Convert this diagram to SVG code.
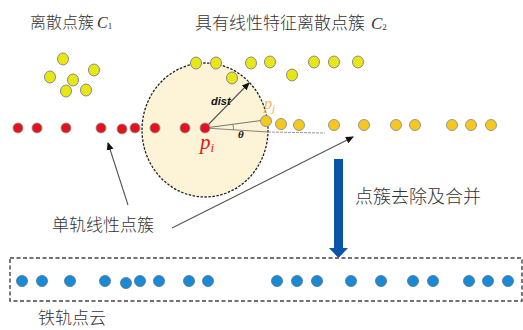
<svg xmlns="http://www.w3.org/2000/svg" width="523" height="330" viewBox="0 0 523 330">
<style>
.cn{font-family:"Noto Sans CJK SC","Liberation Sans",sans-serif;fill:#333;font-weight:300;}
.it{font-family:"Liberation Serif",serif;font-style:italic;fill:#333;}
.red{fill:#e3131b;stroke:#8a8f99;stroke-width:0.8;}
.gold{fill:#f6c81e;stroke:#8a8f99;stroke-width:0.9;}
.yel{fill:#e8e614;stroke:#7a8190;stroke-width:0.9;}
.blue{fill:#1a8ad4;stroke:#4a6f99;stroke-width:0.8;}
.lead{stroke:#555;stroke-width:1.1;fill:none;}
</style>
<defs>
<marker id="ah" markerWidth="8" markerHeight="8" refX="7" refY="4" orient="auto" markerUnits="userSpaceOnUse">
<path d="M0,0.5 L8,4 L0,7.5 z" fill="#111"/>
</marker>
</defs>
<rect width="523" height="330" fill="#fff"/>

<g id="search-circle">
<ellipse cx="205" cy="130" rx="63" ry="67" fill="#fdf3d6" stroke="#222" stroke-width="1.3" stroke-dasharray="2.5 1.5"/>
</g>

<g id="cluster-c1">
<text class="cn" x="30" y="28" font-size="16">离散点簇</text>
<text class="it" x="97" y="28" font-size="16">C<tspan font-size="9" font-style="normal" dy="1">1</tspan></text>
<ellipse class="yel" cx="63" cy="59" rx="5.5" ry="6"/>
<ellipse class="yel" cx="50" cy="77" rx="5.5" ry="6"/>
<ellipse class="yel" cx="73" cy="80" rx="5.5" ry="6"/>
<ellipse class="yel" cx="94" cy="70" rx="5.5" ry="6"/>
<ellipse class="yel" cx="66" cy="91" rx="5.5" ry="6"/>
<ellipse class="yel" cx="86" cy="90" rx="5.5" ry="6"/>
</g>

<g id="cluster-c2">
<text class="cn" x="195" y="29" font-size="17">具有线性特征离散点簇</text>
<text class="it" x="371" y="29" font-size="17">C<tspan font-size="9" font-style="normal" dy="1">2</tspan></text>
<ellipse class="yel" cx="196" cy="63" rx="5.5" ry="6"/>
<ellipse class="yel" cx="216" cy="63" rx="5.5" ry="6"/>
<ellipse class="yel" cx="232" cy="78" rx="5.5" ry="6"/>
<ellipse class="yel" cx="251" cy="63" rx="5.5" ry="6"/>
<ellipse class="yel" cx="270" cy="62" rx="5.5" ry="6"/>
<ellipse class="yel" cx="292" cy="75" rx="5.5" ry="6"/>
<ellipse class="yel" cx="314" cy="62" rx="5.5" ry="6"/>
<ellipse class="yel" cx="334" cy="62" rx="5.5" ry="6"/>
<ellipse class="yel" cx="358" cy="62" rx="5.5" ry="6"/>
</g>

<g id="connectors">
<line class="lead" x1="205" y1="128" x2="249" y2="83" marker-end="url(#ah)" stroke="#444" stroke-width="0.9"/>
<line x1="205" y1="128" x2="265" y2="120" stroke="#666" stroke-width="0.9"/>
<line x1="205" y1="128" x2="268" y2="132" stroke="#777" stroke-width="0.9"/>
<line x1="268" y1="132" x2="325" y2="133" stroke="#999" stroke-width="1" stroke-dasharray="3 1"/>
<path d="M233,124.5 A28,28 0 0 1 233.5,130" fill="none" stroke="#666" stroke-width="0.8"/>
<line class="lead" x1="128" y1="205" x2="108" y2="143" marker-end="url(#ah)"/>
<line class="lead" x1="172" y1="228" x2="353" y2="137" marker-end="url(#ah)"/>
<rect x="334" y="159" width="9" height="90" fill="#0a55a8"/>
<path d="M329,248 L348,248 L338.5,258 z" fill="#0a55a8"/>
</g>

<g id="single-rail">
<circle class="red" cx="18" cy="128" r="5"/>
<circle class="red" cx="37" cy="128" r="5"/>
<circle class="red" cx="66" cy="128" r="5"/>
<circle class="red" cx="101" cy="128" r="5"/>
<circle class="red" cx="122" cy="129" r="5"/>
<circle class="red" cx="135" cy="128" r="5"/>
<circle class="red" cx="155" cy="128" r="5"/>
<circle class="red" cx="185" cy="128" r="5"/>
<circle class="red" cx="205" cy="128" r="5"/>
<circle class="gold" cx="266" cy="121" r="5.5"/>
<circle class="gold" cx="281" cy="124" r="5.5"/>
<circle class="gold" cx="299" cy="125" r="5.5"/>
<circle class="gold" cx="334" cy="125" r="5.5"/>
<circle class="gold" cx="364" cy="125" r="5.5"/>
<circle class="gold" cx="396" cy="125" r="5.5"/>
<circle class="gold" cx="415" cy="125" r="5.5"/>
<circle class="gold" cx="452" cy="125" r="5.5"/>
<circle class="gold" cx="471" cy="125" r="5.5"/>
<circle class="gold" cx="491" cy="125" r="5.5"/>
<text x="211" y="105" font-family="Liberation Sans,sans-serif" font-size="11" font-weight="bold" font-style="italic" fill="#111">dist</text>
<text x="238" y="138" font-family="Liberation Serif,serif" font-size="11" font-style="italic" font-weight="bold" fill="#111">θ</text>
<text x="200" y="149" font-family="Liberation Serif,serif" font-size="21" font-style="italic" fill="#e3131b">p<tspan font-size="13" dy="3">i</tspan></text>
<text x="264" y="109" font-family="Liberation Serif,serif" font-size="16" font-style="italic" fill="#f5b445">p<tspan font-size="11" dy="3">j</tspan></text>
</g>

<g id="label-single-rail">
<text class="cn" x="52" y="231" font-size="17">单轨线性点簇</text>
</g>

<g id="label-process">
<text class="cn" x="355" y="203" font-size="18">点簇去除及合并</text>
</g>

<g id="rail-cloud">
<rect x="10" y="258" width="512" height="43" fill="none" stroke="#444" stroke-width="1.4" stroke-dasharray="4 2.5"/>
<circle class="blue" cx="22" cy="281" r="5.5"/>
<circle class="blue" cx="42" cy="281" r="5.5"/>
<circle class="blue" cx="70" cy="281" r="5.5"/>
<circle class="blue" cx="105" cy="281" r="5.5"/>
<circle class="blue" cx="126" cy="283" r="5.5"/>
<circle class="blue" cx="140" cy="281" r="5.5"/>
<circle class="blue" cx="159" cy="281" r="5.5"/>
<circle class="blue" cx="189" cy="281" r="5.5"/>
<circle class="blue" cx="208" cy="281" r="5.5"/>
<circle class="blue" cx="277" cy="281" r="5.5"/>
<circle class="blue" cx="297" cy="281" r="5.5"/>
<circle class="blue" cx="317" cy="281" r="5.5"/>
<circle class="blue" cx="351" cy="281" r="5.5"/>
<circle class="blue" cx="381" cy="281" r="5.5"/>
<circle class="blue" cx="413" cy="281" r="5.5"/>
<circle class="blue" cx="433" cy="281" r="5.5"/>
<circle class="blue" cx="469" cy="281" r="5.5"/>
<circle class="blue" cx="488" cy="281" r="5.5"/>
<circle class="blue" cx="508" cy="281" r="5.5"/>
<text class="cn" x="38" y="324" font-size="17">铁轨点云</text>
</g>
</svg>
